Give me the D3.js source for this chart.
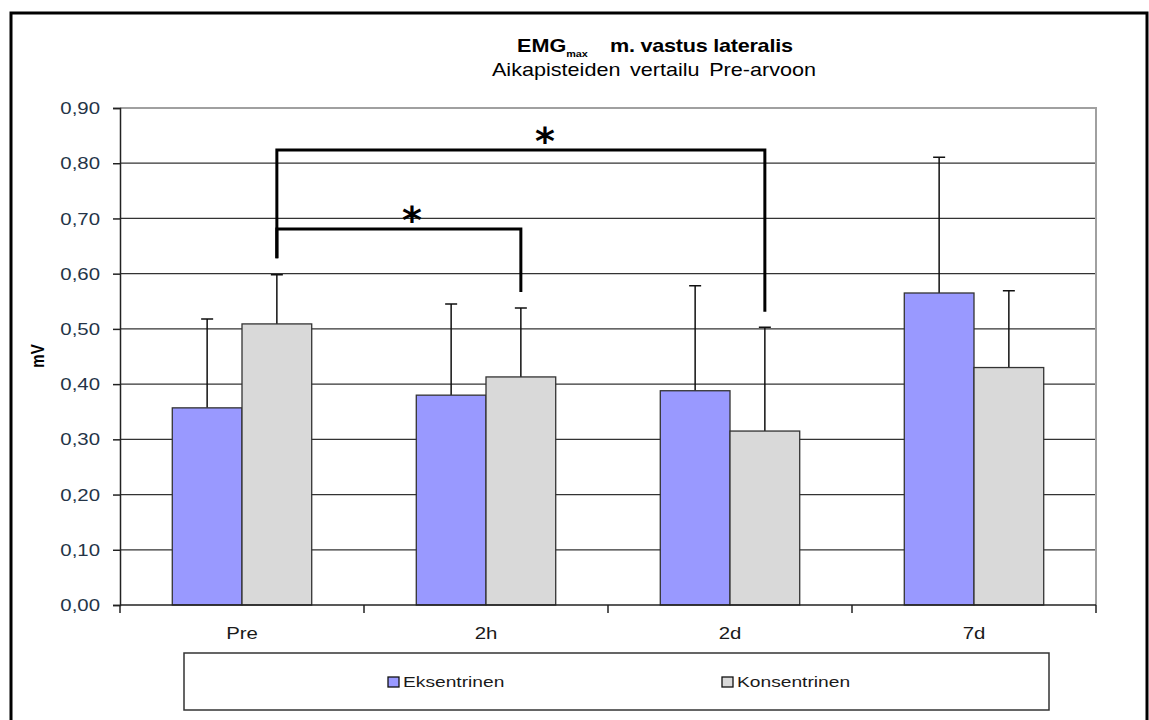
<!DOCTYPE html>
<html>
<head>
<meta charset="utf-8">
<script src="https://cdn.jsdelivr.net/npm/d3@7"></script>
<style>
  body { margin: 0; background: #fff; }
  text { font-family: "Liberation Sans", Arial, sans-serif; }
</style>
</head>
<body>
<svg class="container"></svg>
<script>
// data
const categories = ['Pre', '2h', '2d', '7d'];
const seriesNames = ['Eksentrinen', 'Konsentrinen'];
const eksentrinen = [0.357, 0.380, 0.388, 0.565];
const eksentrinenSD = [0.161, 0.165, 0.190, 0.246];
const konsentrinen = [0.509, 0.413, 0.315, 0.430];
const konsentrinenSD = [0.089, 0.125, 0.188, 0.139];
const yTicks = [0, 0.1, 0.2, 0.3, 0.4, 0.5, 0.6, 0.7, 0.8, 0.9];

// significance brackets (Konsentrinen Pre vs later time point)
const brackets = [
  { from: 'Pre', to: '2h', level: 0.681, leftEnd: 0.628, rightEnd: 0.567, starShift: 13 },
  { from: 'Pre', to: '2d', level: 0.824, leftEnd: 0.628, rightEnd: 0.531, starShift: 24 }
];

const w = 1149, h = 720;
const margin = { top: 108, right: 53, bottom: 115, left: 120 };
const sx = 1.2; // the original picture is stretched sideways

const svg = d3.select('.container').attr('width', w).attr('height', h);

const xScale = d3.scaleBand().domain(categories).range([margin.left, w - margin.right]);
const barW = xScale.bandwidth() / 3.5;
const xSub = d3.scaleBand().domain(seriesNames).range([barW * 0.75, barW * 2.75]);
const yScale = d3.scaleLinear().domain([0, 0.9]).range([h - margin.bottom, margin.top]);
const colorScale = d3.scaleOrdinal().domain(seriesNames).range(['#9999ff', '#d9d9d9']);

const fmt = v => d3.format('.2f')(v).replace('.', ',');

// outer frame
svg.append('rect')
  .attr('x', 11).attr('y', 13)
  .attr('width', 1136).attr('height', 730)
  .attr('fill', 'none').attr('stroke', '#000').attr('stroke-width', 3);

// gridlines
svg.selectAll('.grid').data(yTicks.slice(1, -1)).join('line')
  .attr('class', 'grid')
  .attr('x1', margin.left).attr('x2', w - margin.right)
  .attr('y1', d => yScale(d)).attr('y2', d => yScale(d))
  .attr('stroke', '#333').attr('stroke-width', 1.2);

// plot area border (top / right)
svg.append('path')
  .attr('d', `M${margin.left},${yScale(0.9)}H${w - margin.right}V${yScale(0)}`)
  .attr('fill', 'none').attr('stroke', '#a0a0a0').attr('stroke-width', 2);

const rows = categories.map((c, i) => ({
  cat: c,
  vals: [
    { key: 'Eksentrinen', v: eksentrinen[i], sd: eksentrinenSD[i] },
    { key: 'Konsentrinen', v: konsentrinen[i], sd: konsentrinenSD[i] }
  ]
}));

const groups = svg.selectAll('.cat').data(rows).join('g')
  .attr('class', 'cat')
  .attr('transform', d => `translate(${xScale(d.cat)},0)`);

// error bars (upper only)
groups.selectAll('.err').data(d => d.vals).join('path')
  .attr('class', 'err')
  .attr('d', d => {
    const cx = xSub(d.key) + xSub.bandwidth() / 2;
    return `M${cx},${yScale(d.v)}V${yScale(d.v + d.sd)}M${cx - 6},${yScale(d.v + d.sd)}H${cx + 6}`;
  })
  .attr('fill', 'none').attr('stroke', '#111').attr('stroke-width', 1.5);

groups.selectAll('.bar').data(d => d.vals).join('rect')
  .attr('class', 'bar')
  .attr('x', d => xSub(d.key))
  .attr('y', d => yScale(d.v))
  .attr('width', xSub.bandwidth())
  .attr('height', d => yScale(0) - yScale(d.v))
  .attr('fill', d => colorScale(d.key))
  .attr('stroke', '#333').attr('stroke-width', 1.3);

// y axis
const yAxis = svg.append('g')
  .attr('transform', `translate(${margin.left},0)`)
  .call(d3.axisLeft(yScale).tickValues(yTicks).tickSize(7).tickFormat(''));
yAxis.select('.domain').attr('stroke', '#222').attr('stroke-width', 1.5);
yAxis.selectAll('.tick line').attr('stroke', '#222').attr('stroke-width', 1.5);

svg.selectAll('.ylab').data(yTicks).join('text')
  .attr('class', 'ylab')
  .attr('transform', d => `translate(100,${yScale(d)}) scale(${sx},1)`)
  .attr('text-anchor', 'end')
  .attr('dy', '0.36em')
  .style('font-size', '17px')
  .attr('fill', '#243447')
  .text(fmt);

// x axis
const xAxis = svg.append('g')
  .attr('transform', `translate(0,${yScale(0)})`);
xAxis.append('line')
  .attr('x1', margin.left).attr('x2', w - margin.right)
  .attr('stroke', '#222').attr('stroke-width', 1.5);
xAxis.selectAll('.xtick').data(categories.concat(['end'])).join('line')
  .attr('class', 'xtick')
  .attr('x1', (d, i) => margin.left + i * xScale.step())
  .attr('x2', (d, i) => margin.left + i * xScale.step())
  .attr('y1', 0).attr('y2', 8)
  .attr('stroke', '#222').attr('stroke-width', 1.5);

svg.selectAll('.xlab').data(categories).join('text')
  .attr('class', 'xlab')
  .attr('transform', d => `translate(${xScale(d) + xScale.bandwidth() / 2},639) scale(${sx},1)`)
  .attr('text-anchor', 'middle')
  .style('font-size', '17px')
  .attr('fill', '#1a1a1a')
  .text(d => d);

// y axis title
svg.append('text')
  .attr('transform', `translate(44,356) rotate(-90) scale(1,${sx})`)
  .attr('text-anchor', 'middle')
  .style('font-size', '15px').style('font-weight', 'bold')
  .text('mV');

// title
svg.append('text')
  .attr('transform', `translate(517,52) scale(${sx},1)`)
  .style('font-size', '18px').style('font-weight', 'bold')
  .text('EMG')
  .append('tspan')
  .attr('dy', 5)
  .style('font-size', '9px')
  .text('max');
svg.append('text')
  .attr('transform', `translate(610,52) scale(${sx},1)`)
  .style('font-size', '18px').style('font-weight', 'bold')
  .style('letter-spacing', '-0.2px')
  .text('m. vastus lateralis');
svg.append('text')
  .attr('transform', `translate(654,76) scale(${sx},1)`)
  .attr('text-anchor', 'middle')
  .style('font-size', '18px')
  .style('word-spacing', '3px')
  .text('Aikapisteiden vertailu Pre-arvoon');

// significance brackets
const konsX = c => xScale(c) + xSub('Konsentrinen') + xSub.bandwidth() / 2;
svg.selectAll('.bracket').data(brackets).join('path')
  .attr('class', 'bracket')
  .attr('d', d => `M${konsX(d.from)},${yScale(d.leftEnd)}V${yScale(d.level)}H${konsX(d.to)}V${yScale(d.rightEnd)}`)
  .attr('fill', 'none').attr('stroke', '#000').attr('stroke-width', 3);

svg.selectAll('.star').data(brackets).join('text')
  .attr('class', 'star')
  .attr('x', d => (konsX(d.from) + konsX(d.to)) / 2 + d.starShift)
  .attr('y', d => yScale(d.level) + 4)
  .attr('text-anchor', 'middle')
  .style('font-family', 'DejaVu Sans')
  .style('font-weight', 'bold')
  .style('font-size', '38px')
  .text('*');

// legend
const legend = svg.append('g');
legend.append('rect')
  .attr('x', 184).attr('y', 653).attr('width', 865).attr('height', 57)
  .attr('fill', '#fff').attr('stroke', '#333').attr('stroke-width', 1.5);
const legendX = [388, 722];
const items = legend.selectAll('.legend-item').data(seriesNames).join('g')
  .attr('class', 'legend-item')
  .attr('transform', (d, i) => `translate(${legendX[i]},682)`);
items.append('rect')
  .attr('x', 0).attr('y', -5).attr('width', 11).attr('height', 10)
  .attr('fill', d => colorScale(d)).attr('stroke', '#111').attr('stroke-width', 1.3);
items.append('text')
  .attr('transform', `translate(15,0) scale(1.28,1)`)
  .attr('dy', '0.36em')
  .style('font-size', '15px')
  .attr('fill', '#1a1a1a')
  .text(d => d);
</script>
</body>
</html>
